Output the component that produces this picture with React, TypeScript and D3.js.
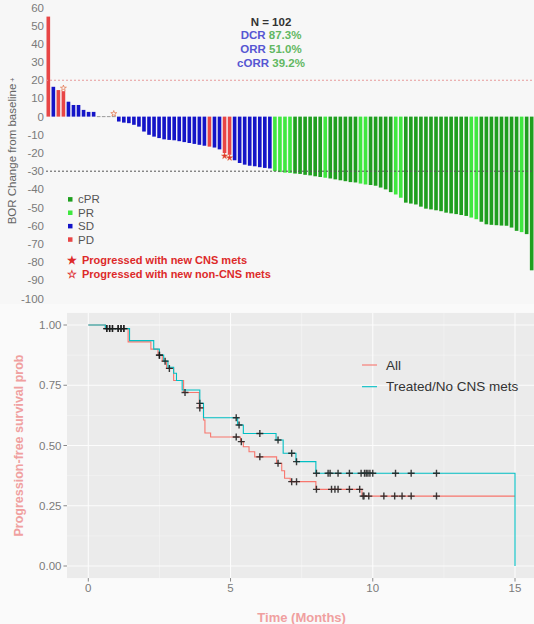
import * as d3 from 'd3';

// ---- waterfall data (best overall response, % change from baseline) ----
const BOR_VALUES = [
  55, 16.4, 14.6, 14, 8.2, 6.4, 6.4, 3.7, 2.6, 2.6,
  0, 0, 0, 0,
  -2.7, -3.3, -3.6, -4.5, -5.5, -8.2, -10, -11, -11.8, -12.5,
  -12.8, -13, -13.5, -14, -14.5, -15, -15.5, -16, -16.5, -17,
  -18, -20, -21, -24, -25.5, -26.4, -27, -27.3, -27.8, -28.2, -28.5,
  -30, -30.5, -30.8, -31, -31.3, -31.5, -32, -32.3, -32.8, -33.2,
  -33.6, -34, -34.5, -35, -35.5, -36, -36.2, -36.8, -37.3, -37.6,
  -38, -39, -40, -41.5, -42.8, -44.6, -47.3, -47.8, -48.3, -49.5,
  -50.6, -51, -51.5, -52, -52.8, -53.2, -53.6, -54.1, -54.6, -55.5,
  -56.4, -57.8, -59.2, -59.5, -59.7, -59.9, -60, -61, -62.8, -63.5,
  -64.6, -84.5,
];
// D = PD, S = SD, P = PR, C = cPR
const BOR_RESPONSE = (
  'DSDDSSSSSSSSSS' +
  'SSSSSSSSSSSSSSSSSSDSSDDSSSSSSSS' +
  'PPPPCCCCCCPCCCCCCPPCCCCCPPCCCCCCCCCCCCCPPCCCCCCCCPCC'
).split('');
const RESPONSE_COLORS = { C: '#1f9f1f', P: '#3fe83f', S: '#1414c8', D: '#e84646' };
const LEGEND_ITEMS = [
  { code: 'C', label: 'cPR' },
  { code: 'P', label: 'PR' },
  { code: 'S', label: 'SD' },
  { code: 'D', label: 'PD' },
];
const STAR_BARS = [
  { bar: 3, cns: false },
  { bar: 13, cns: false },
  { bar: 35, cns: true },
  { bar: 36, cns: true },
];
const BOR_TICKS = [60, 50, 40, 30, 20, 10, 0, -10, -20, -30, -40, -50, -60, -70, -80, -90, -100];

// ---- Kaplan-Meier data ----
const KM_ALL_STEPS = [
  [0, 1], [0.6, 0.985], [1.4, 0.93], [2.2, 0.9], [2.45, 0.875], [2.6, 0.85], [2.75, 0.82],
  [3.0, 0.77], [3.35, 0.72], [3.9, 0.656], [4.05, 0.606], [4.1, 0.552], [4.3, 0.535],
  [5.35, 0.516], [5.45, 0.495], [5.65, 0.474], [5.85, 0.453], [6.62, 0.426], [6.8, 0.395],
  [6.9, 0.364], [7.1, 0.35], [8.0, 0.318], [9.62, 0.29], [15, 0.29],
];
const KM_TREATED_STEPS = [
  [0, 1], [0.6, 0.985], [1.45, 0.935], [2.3, 0.9], [2.5, 0.875], [2.65, 0.85], [2.8, 0.825],
  [3.0, 0.8], [3.1, 0.77], [3.3, 0.73], [3.92, 0.675], [4.05, 0.615], [5.25, 0.585],
  [5.45, 0.55], [6.6, 0.523], [6.85, 0.468], [7.3, 0.433], [8.0, 0.385], [15, 0],
];
const KM_ALL_CENSOR = [
  0.65, 0.75, 0.85, 1.05, 1.15, 1.25, 2.5, 2.7, 2.85, 3.4, 3.92, 5.2, 5.38, 6.03, 6.67,
  7.15, 7.32, 8.02, 8.55, 8.67, 8.78, 9.18, 9.54, 9.66, 9.69, 9.86, 10.39, 10.77, 11.03,
  11.35, 12.24,
];
const KM_TREATED_CENSOR = [
  0.65, 0.75, 0.85, 1.05, 1.15, 1.25, 2.5, 3.92, 5.2, 5.3, 6.03, 6.67, 7.15, 7.32, 8.02,
  8.43, 8.5, 8.78, 9.18, 9.59, 9.71, 9.77, 9.83, 9.9, 10.0, 10.8, 11.35, 12.24,
];
const KM_SERIES = [
  { name: 'All', color: '#f8766d', steps: KM_ALL_STEPS, censor: KM_ALL_CENSOR },
  { name: 'Treated/No CNS mets', color: '#00bfc4', steps: KM_TREATED_STEPS, censor: KM_TREATED_CENSOR },
];
const KM_X_TICKS = [0, 5, 10, 15];
const KM_Y_TICKS = [0, 0.25, 0.5, 0.75, 1];

const FONT = '"Liberation Sans", Arial, sans-serif';

const survivalAt = (steps, t) => {
  let s = steps[0][1];
  steps.forEach(([st, sv]) => { if (st <= t) s = sv; });
  return s;
};

const Waterfall = () => {
  const xScale = d3.scaleBand()
    .domain(BOR_VALUES.map((_, i) => i))
    .range([46.5, 533.5])
    .paddingInner(0.28);
  const yScale = d3.scaleLinear().domain([-100, 60]).range([298.5, 7.5]);
  const y0 = yScale(0);
  const star = d3.symbol().type(d3.symbolStar).size(11);

  return (
    <g>
      <rect x={0} y={0} width={534} height={304} fill="#f7f7f7" />
      {BOR_TICKS.map((t) => (
        <text key={t} x={44} y={yScale(t)} dy="0.35em" textAnchor="end"
          fontSize={11.5} fill="#7a7a7a">{t}</text>
      ))}
      <text transform={`translate(16,${151}) rotate(-90)`} textAnchor="middle"
        fontSize={11.5} fill="#666">
        BOR Change from baseline<tspan fontSize={7} dy={-1}> +</tspan>
      </text>

      {BOR_VALUES.map((v, i) => {
        const top = v > 0 ? yScale(v) : y0;
        const h = Math.abs(yScale(v) - y0);
        return v === 0 ? (
          <rect key={i} x={xScale(i)} y={y0 - 0.5} width={xScale.bandwidth()} height={1} fill="#9a9a9a" />
        ) : (
          <rect key={i} x={xScale(i)} y={top} width={xScale.bandwidth()} height={h}
            fill={RESPONSE_COLORS[BOR_RESPONSE[i]]} />
        );
      })}

      <line x1={46} x2={534} y1={yScale(20)} y2={yScale(20)} stroke="#e79a9a"
        strokeWidth={1} strokeDasharray="2,2" />
      <line x1={46} x2={534} y1={yScale(-30)} y2={yScale(-30)} stroke="#555"
        strokeWidth={1} strokeDasharray="2,2" />

      {STAR_BARS.map((s, k) => {
        const v = BOR_VALUES[s.bar];
        const cx = xScale(s.bar) + xScale.bandwidth() / 2;
        const cy = v >= 0 ? yScale(v) - 3 : yScale(v) + 3;
        return (
          <path key={k} d={star()} transform={`translate(${cx},${cy})`}
            fill={s.cns ? '#e03030' : 'none'} stroke="#e06030" strokeWidth={0.6} />
        );
      })}

      <g fontFamily={FONT} fontWeight="bold" fontSize={11.5} textAnchor="middle">
        <text x={271} y={21.7} dy="0.35em" fill="#333">N = 102</text>
        <text x={271} y={35} dy="0.35em"><tspan fill="#5656d2">DCR </tspan><tspan fill="#62b862">87.3%</tspan></text>
        <text x={271} y={49.3} dy="0.35em"><tspan fill="#5656d2">ORR </tspan><tspan fill="#62b862">51.0%</tspan></text>
        <text x={271} y={63.3} dy="0.35em"><tspan fill="#5656d2">cORR </tspan><tspan fill="#62b862">39.2%</tspan></text>
      </g>

      {LEGEND_ITEMS.map((it, k) => (
        <g key={it.code} transform={`translate(68,${199.3 + k * 13.4})`}>
          <rect x={0} y={-2.2} width={4.5} height={4.5} fill={RESPONSE_COLORS[it.code]} />
          <text x={10} y={0} dy="0.35em" fontSize={11.5} fill="#555">{it.label}</text>
        </g>
      ))}
      <g fontWeight="bold" fontSize={11} fill="#dd2a2a">
        <text x={67} y={260} dy="0.35em">★</text>
        <text x={82} y={260} dy="0.35em">Progressed with new CNS mets</text>
        <text x={67} y={274} dy="0.35em">☆</text>
        <text x={82} y={274} dy="0.35em">Progressed with new non-CNS mets</text>
      </g>
    </g>
  );
};

const KaplanMeier = () => {
  const xScale = d3.scaleLinear().domain([0, 15]).range([88.3, 515]);
  const yScale = d3.scaleLinear().domain([0, 1]).range([566, 325]);
  const left = xScale(-0.75), right = xScale(15.75);
  const top = yScale(1.05), bottom = yScale(-0.05);
  const line = d3.line().x((d) => xScale(d[0])).y((d) => yScale(d[1])).curve(d3.curveStepAfter);
  const xMinor = [2.5, 7.5, 12.5];
  const yMinor = [0.125, 0.375, 0.625, 0.875];

  return (
    <g>
      <rect x={0} y={304} width={534} height={320} fill="#fafafa" />
      <rect x={left} y={top} width={right - left} height={bottom - top} fill="#ebebeb" />
      {xMinor.map((t) => (
        <line key={'xm' + t} x1={xScale(t)} x2={xScale(t)} y1={top} y2={bottom} stroke="#f6f6f6" strokeWidth={0.6} />
      ))}
      {yMinor.map((t) => (
        <line key={'ym' + t} x1={left} x2={right} y1={yScale(t)} y2={yScale(t)} stroke="#f6f6f6" strokeWidth={0.6} />
      ))}
      {KM_X_TICKS.map((t) => (
        <line key={'xg' + t} x1={xScale(t)} x2={xScale(t)} y1={top} y2={bottom} stroke="#fcfcfc" strokeWidth={1.1} />
      ))}
      {KM_Y_TICKS.map((t) => (
        <line key={'yg' + t} x1={left} x2={right} y1={yScale(t)} y2={yScale(t)} stroke="#fcfcfc" strokeWidth={1.1} />
      ))}

      {KM_SERIES.map((s) => (
        <path key={s.name} d={line(s.steps)} fill="none" stroke={s.color} strokeWidth={1.1} />
      ))}
      {KM_SERIES.map((s) => (
        <g key={s.name + 'c'} stroke="#1a1a1a" strokeWidth={1.4} opacity={0.85}>
          {s.censor.map((t, k) => {
            const cx = xScale(t), cy = yScale(survivalAt(s.steps, t));
            return <path key={k} d={`M${cx - 3.5},${cy}H${cx + 3.5}M${cx},${cy - 3.5}V${cy + 3.5}`} />;
          })}
        </g>
      ))}

      {KM_Y_TICKS.map((t) => (
        <g key={'yt' + t}>
          <line x1={left - 3.5} x2={left} y1={yScale(t)} y2={yScale(t)} stroke="#888" />
          <text x={left - 5.5} y={yScale(t)} dy="0.35em" textAnchor="end" fontSize={11.5} fill="#7a7a7a">
            {t.toFixed(2)}
          </text>
        </g>
      ))}
      {KM_X_TICKS.map((t) => (
        <g key={'xt' + t}>
          <line x1={xScale(t)} x2={xScale(t)} y1={bottom} y2={bottom + 3.5} stroke="#888" />
          <text x={xScale(t)} y={bottom + 10} dy="0.35em" textAnchor="middle" fontSize={11.5} fill="#7a7a7a">
            {t}
          </text>
        </g>
      ))}

      <text x={(left + right) / 2} y={617} dy="0.35em" textAnchor="middle" fontWeight="bold"
        fontSize={13} fill="#f0a0a0">Time (Months)</text>
      <text transform={`translate(19,${(top + bottom) / 2}) rotate(-90)`} textAnchor="middle"
        dy="0.35em" fontWeight="bold" fontSize={12.5} fill="#f0a0a0">Progression-free survival prob</text>

      {KM_SERIES.map((s, k) => (
        <g key={s.name + 'l'} transform={`translate(362,${365 + k * 21.7})`}>
          <line x1={0} x2={15} y1={0} y2={0} stroke={s.color} strokeWidth={1.1} />
          <text x={24} y={0} dy="0.35em" fontSize={13.5} fill="#333">{s.name}</text>
        </g>
      ))}
    </g>
  );
};

export default function App() {
  return (
    <svg width={534} height={624} style={{ position: 'absolute', left: 0, top: 0 }}
      fontFamily={FONT}>
      <Waterfall />
      <KaplanMeier />
    </svg>
  );
}
